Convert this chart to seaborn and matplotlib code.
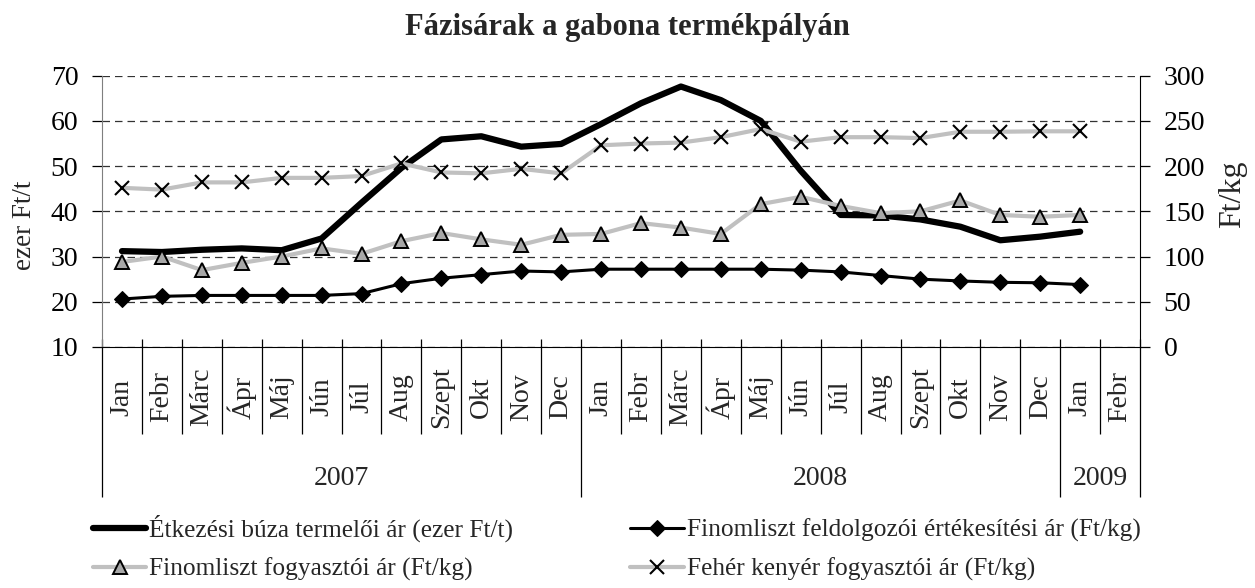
import numpy as np
import pandas as pd
import matplotlib
matplotlib.use('Agg')
import matplotlib.pyplot as plt
import matplotlib.transforms as mtransforms
import seaborn as sns

# data
months = ['Jan', 'Febr', 'Márc', 'Ápr', 'Máj', 'Jún', 'Júl', 'Aug', 'Szept', 'Okt', 'Nov', 'Dec',
          'Jan', 'Febr', 'Márc', 'Ápr', 'Máj', 'Jún', 'Júl', 'Aug', 'Szept', 'Okt', 'Nov', 'Dec',
          'Jan', 'Febr']
years = ['2007', '2008', '2009']
year_counts = [12, 12, 2]

# ezer Ft/t (left axis)
wheat = [31.2, 31.0, 31.5, 31.8, 31.4, 34.0, 41.9, 49.6, 55.9, 56.6, 54.3, 54.9,
         59.3, 63.9, 67.6, 64.6, 60.0, 49.0, 39.2, 39.1, 38.2, 36.6, 33.6, 34.4,
         35.5, np.nan]
# Ft/kg (right axis)
flour_proc = [53, 56, 57, 57, 57, 57, 59, 70, 76, 80, 84, 83,
              86, 86, 86, 86, 86, 85, 83, 79, 75, 73, 71.5, 71,
              69, np.nan]
flour_cons = [94, 100, 85, 93, 100, 109, 103, 117, 126, 119, 113, 124,
              125, 137, 132, 125, 158, 166, 156, 148, 150, 162, 146, 144,
              146, np.nan]
bread = [176, 174, 182, 182, 187, 187, 189, 203, 193, 192, 197, 192,
         223, 225, 226, 232, 241, 227, 232, 232, 231, 238, 238, 238.5,
         238.5, np.nan]

series_labels = ['Étkezési búza termelői ár (ezer Ft/t)',
                 'Finomliszt feldolgozói értékesítési ár (Ft/kg)',
                 'Finomliszt fogyasztói ár (Ft/kg)',
                 'Fehér kenyér fogyasztói ár (Ft/kg)']

sns.set_style('white')
plt.rcParams['font.family'] = ['Liberation Serif', 'DejaVu Serif']

df = pd.DataFrame({'idx': np.arange(len(months)), 'wheat': wheat,
                   'flour_proc': flour_proc, 'flour_cons': flour_cons, 'bread': bread})

fig = plt.figure(figsize=(12.55, 5.88), dpi=100)
ax = fig.add_axes([0.0813, 0.4099, 0.8271, 0.4614])
ax2 = ax.twinx()

gray = '#c0c0c0'
sns.lineplot(data=df, x='idx', y='wheat', ax=ax, color='black', lw=4.5,
             errorbar=None, solid_capstyle='round')
sns.lineplot(data=df, x='idx', y='flour_proc', ax=ax2, color='black', lw=2.2,
             marker='D', markersize=8, markeredgecolor='black', errorbar=None)
sns.lineplot(data=df, x='idx', y='flour_cons', ax=ax2, color=gray, lw=3,
             marker='^', markersize=10, markerfacecolor='#a8a8a8',
             markeredgecolor='black', markeredgewidth=1.4, errorbar=None)
sns.lineplot(data=df, x='idx', y='bread', ax=ax2, color=gray, lw=3,
             marker='x', markersize=10, markeredgecolor='black',
             markeredgewidth=1.5, errorbar=None)

# axes ranges
ax.set_xlim(-0.5, len(months) - 0.5)
ax.set_ylim(10, 70)
ax2.set_ylim(0, 300)
ax.set_yticks(range(10, 71, 10))
ax2.set_yticks(range(0, 301, 50))
ax.set_xlabel('')
ax.set_ylabel('')
ax2.set_ylabel('')

ax.yaxis.grid(True, color='#333333', lw=0.9, linestyle=(0, (6, 4)))
ax2.grid(False)

ax.spines['top'].set_visible(False)
ax.spines['right'].set_visible(False)
for s in ['top', 'left', 'bottom']:
    ax2.spines[s].set_visible(False)
ax.spines['left'].set_color('#7f7f7f')
ax.spines['bottom'].set_color('black')
ax2.spines['right'].set_color('black')

ax.tick_params(axis='y', labelsize=20, length=7, width=0.9, pad=10,
               direction='out', left=True, colors='black')
ax2.tick_params(axis='y', labelsize=20, length=7, width=0.9, pad=10,
                direction='out', right=True, colors='black')

ax.set_xticks(range(len(months)))
ax.set_xticklabels(months, rotation=90, fontsize=20)
ax.tick_params(axis='x', length=0, pad=36)
for lbl in ax.get_xticklabels():
    lbl.set_verticalalignment('center')

# category separators and year groups below the axis
ax_h = 0.4614 * 588
trans = mtransforms.blended_transform_factory(ax.transData, ax.transAxes)
top_ext = 8 / ax_h
month_bot = -(434 - 347) / ax_h
year_bot = -(497 - 347) / ax_h
year_edges = np.cumsum([0] + year_counts) - 0.5
for b in np.arange(len(months) + 1) - 0.5:
    y_end = year_bot if b in year_edges else month_bot
    ax.vlines(b, y_end, top_ext, transform=trans, color='black', lw=0.9, clip_on=False)
for i, yr in enumerate(years):
    center = (year_edges[i] + year_edges[i + 1]) / 2
    ax.text(center, -(479 - 347) / ax_h, yr, transform=trans, ha='center',
            va='center', fontsize=20)

# titles and axis labels
fig.text(0.5, 1 - 28 / 588, 'Fázisárak a gabona termékpályán', ha='center',
         va='center', fontsize=22, fontweight='bold')
fig.text(25 / 1255, 1 - 225 / 588, 'ezer Ft/t', rotation=90, ha='center',
         va='center', fontsize=19.5)
fig.text(1233 / 1255, 1 - 194 / 588, 'Ft/kg', rotation=90, ha='center',
         va='center', fontsize=23)

# legend
h_wheat = ax.lines[0]
h_proc, h_cons, h_bread = ax2.lines[:3]
fig.legend(handles=[h_wheat, h_cons, h_proc, h_bread],
           labels=[series_labels[0], series_labels[2], series_labels[1], series_labels[3]],
           ncol=2, loc='upper left', bbox_to_anchor=(93 / 1255, 1 - 515 / 588),
           frameon=False, fontsize=18.3, handlelength=2.1, handletextpad=0.12,
           columnspacing=4.6, labelspacing=0.6, borderpad=0, borderaxespad=0)

fig.savefig('out.png', dpi=100)
